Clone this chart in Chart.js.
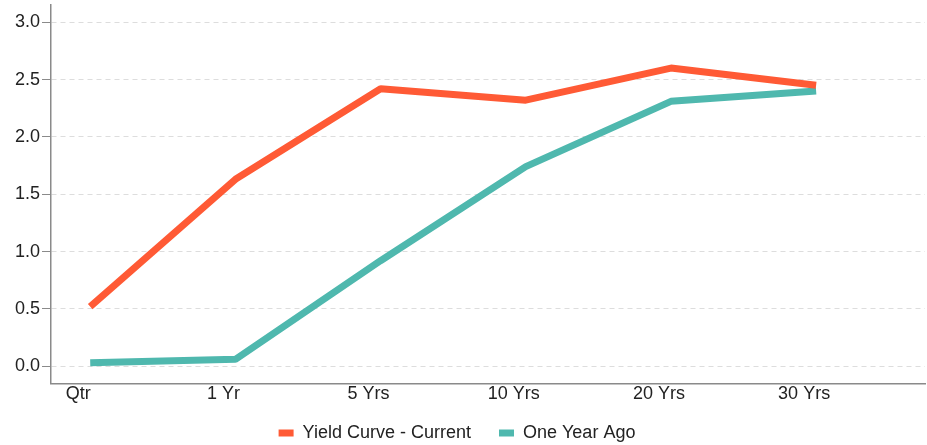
<!DOCTYPE html>
<html>
<head>
<meta charset="utf-8">
<script src="https://cdn.jsdelivr.net/npm/chart.js@4"></script>
<style>
  html, body { margin: 0; padding: 0; background: #ffffff; }
  #wrap { width: 927px; height: 445px; position: relative; }
</style>
</head>
<body>
<div id="wrap"><canvas id="c"></canvas></div>
<script>
const categories = ['Qtr', '1 Yr', '5 Yrs', '10 Yrs', '20 Yrs', '30 Yrs'];
const currentYield = [0.52, 1.63, 2.42, 2.32, 2.60, 2.45];
const oneYearAgo = [0.03, 0.06, 0.92, 1.74, 2.31, 2.40];
const yTicks = [0.0, 0.5, 1.0, 1.5, 2.0, 2.5, 3.0];

const toPoints = arr => arr.map((v, i) => ({ x: i, y: v }));

// Draws the legend a little higher and further left inside its box so it can keep wide item spacing.
const legendShift = {
  id: 'legendShift',
  afterInit(chart) {
    const lg = chart.legend;
    if (!lg) return;
    const orig = lg.draw.bind(lg);
    lg.draw = function () {
      const dy = 9, dx = 12;
      this.top -= dy;
      this.left -= dx;
      this.right -= dx;
      orig();
      this.top += dy;
      this.left += dx;
      this.right += dx;
    };
  }
};

new Chart(document.getElementById('c'), {
  type: 'line',
  data: {
    datasets: [
      {
        label: 'Yield Curve - Current',
        data: toPoints(currentYield),
        borderColor: '#FF5A35',
        backgroundColor: '#FF5A35',
        borderWidth: 7,
        pointRadius: 0,
        tension: 0,
        borderJoinStyle: 'bevel'
      },
      {
        label: 'One Year Ago',
        data: toPoints(oneYearAgo),
        borderColor: '#4FB8AE',
        backgroundColor: '#4FB8AE',
        borderWidth: 7,
        pointRadius: 0,
        tension: 0,
        borderJoinStyle: 'bevel'
      }
    ]
  },
  plugins: [legendShift],
  options: {
    responsive: true,
    maintainAspectRatio: false,
    animation: false,
    layout: { padding: { left: 13, right: 2, top: 5, bottom: 0 } },
    plugins: {
      tooltip: { enabled: false },
      legend: {
        position: 'bottom',
        maxHeight: 40,
        labels: {
          font: { family: 'Liberation Sans', size: 18 },
          color: '#222222',
          boxWidth: 15,
          boxHeight: 7,
          padding: 28,
          generateLabels: chart => Chart.defaults.plugins.legend.labels.generateLabels(chart)
            .map(l => Object.assign(l, { lineWidth: 0 }))
        }
      }
    },
    scales: {
      x: {
        type: 'linear',
        min: -0.27,
        max: 5.75,
        grid: { display: false, drawTicks: false },
        border: { display: true, color: '#8a8a8a', width: 1.5 },
        ticks: {
          stepSize: 1,
          includeBounds: false,
          autoSkip: false,
          maxRotation: 0,
          labelOffset: -12,
          padding: 0,
          color: '#222222',
          font: { family: 'Liberation Sans', size: 18 },
          callback: v => (Number.isInteger(v) && v >= 0 && v < categories.length) ? categories[v] : ''
        }
      },
      y: {
        type: 'linear',
        min: -0.15,
        max: 3.15,
        afterBuildTicks: scale => { scale.ticks = yTicks.map(v => ({ value: v })); },
        afterFit: scale => { scale.paddingTop = 0; scale.paddingBottom = 0; },
        grid: {
          color: '#dddddd',
          drawTicks: true,
          tickLength: 9,
          tickColor: '#8a8a8a',
          tickBorderDash: []
        },
        border: { display: true, color: '#8a8a8a', width: 1.5, dash: [5, 4] },
        ticks: {
          padding: 2,
          color: '#222222',
          font: { family: 'Liberation Sans', size: 18 },
          callback: v => Number(v).toFixed(1)
        }
      }
    }
  }
});
</script>
</body>
</html>
